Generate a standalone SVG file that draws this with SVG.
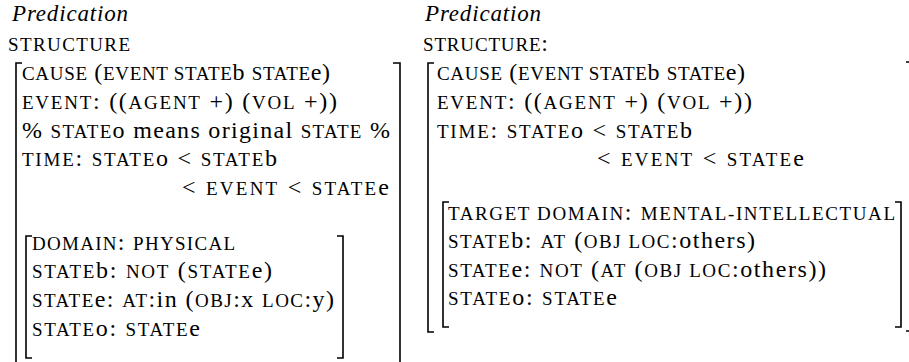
<svg xmlns="http://www.w3.org/2000/svg" width="909" height="362" viewBox="0 0 909 362">
<rect width="909" height="362" fill="#fff"/>
<g id="left-panel" fill="#000">
<text font-family="Liberation Serif" font-size="23" font-style="italic" x="12" y="21" textLength="116">Predication</text>
<text font-family="Liberation Serif" font-size="19" x="8" y="51" textLength="122">STRUCTURE</text>
<g id="left-outer">
<text font-family="Liberation Serif" font-size="24" x="22" y="80" textLength="308"><tspan font-size="19">CAUSE</tspan> (<tspan font-size="19">EVENT STATE</tspan>b <tspan font-size="19">STATE</tspan>e)</text>
<text font-family="Liberation Serif" font-size="24" x="22" y="109" textLength="315"><tspan font-size="19">EVENT</tspan>: ((<tspan font-size="19">AGENT</tspan> +) (<tspan font-size="19">VOL</tspan> +))</text>
<text font-family="Liberation Serif" font-size="24" x="22" y="138" textLength="368">% <tspan font-size="19">STATE</tspan>o means original <tspan font-size="19">STATE</tspan> %</text>
<text font-family="Liberation Serif" font-size="24" x="22" y="166" textLength="255"><tspan font-size="19">TIME</tspan>: <tspan font-size="19">STATE</tspan>o &lt; <tspan font-size="19">STATE</tspan>b</text>
<text font-family="Liberation Serif" font-size="24" x="182" y="195" textLength="207">&lt; <tspan font-size="19">EVENT</tspan> &lt; <tspan font-size="19">STATE</tspan>e</text>
</g>
<g id="left-inner">
<text font-family="Liberation Serif" font-size="24" x="32" y="250" textLength="203"><tspan font-size="19">DOMAIN</tspan>: <tspan font-size="19">PHYSICAL</tspan></text>
<text font-family="Liberation Serif" font-size="24" x="32" y="278" textLength="240"><tspan font-size="19">STATE</tspan>b: <tspan font-size="19">NOT</tspan> (<tspan font-size="19">STATE</tspan>e)</text>
<text font-family="Liberation Serif" font-size="24" x="32" y="307" textLength="302"><tspan font-size="19">STATE</tspan>e: <tspan font-size="19">AT</tspan>:in (<tspan font-size="19">OBJ</tspan>:x <tspan font-size="19">LOC</tspan>:y)</text>
<text font-family="Liberation Serif" font-size="24" x="32" y="336" textLength="168"><tspan font-size="19">STATE</tspan>o: <tspan font-size="19">STATE</tspan>e</text>
</g>
<g id="left-brackets" fill="none" stroke="#000" stroke-width="1.6">
<path d="M22,63 H16 V362"/>
<path d="M393,63 H400 V362"/>
<path d="M32,236 H26 V358 H32"/>
<path d="M337,236 H343 V358 H337"/>
</g>
</g>
<g id="right-panel" fill="#000">
<text font-family="Liberation Serif" font-size="23" font-style="italic" x="425" y="21" textLength="116">Predication</text>
<text font-family="Liberation Serif" font-size="24" x="423" y="51" textLength="125"><tspan font-size="19">STRUCTURE</tspan>:</text>
<g id="right-outer">
<text font-family="Liberation Serif" font-size="24" x="437" y="80" textLength="308"><tspan font-size="19">CAUSE</tspan> (<tspan font-size="19">EVENT STATE</tspan>b <tspan font-size="19">STATE</tspan>e)</text>
<text font-family="Liberation Serif" font-size="24" x="437" y="109" textLength="315"><tspan font-size="19">EVENT</tspan>: ((<tspan font-size="19">AGENT</tspan> +) (<tspan font-size="19">VOL</tspan> +))</text>
<text font-family="Liberation Serif" font-size="24" x="437" y="138" textLength="255"><tspan font-size="19">TIME</tspan>: <tspan font-size="19">STATE</tspan>o &lt; <tspan font-size="19">STATE</tspan>b</text>
<text font-family="Liberation Serif" font-size="24" x="597" y="166" textLength="207">&lt; <tspan font-size="19">EVENT</tspan> &lt; <tspan font-size="19">STATE</tspan>e</text>
</g>
<g id="right-inner">
<text font-family="Liberation Serif" font-size="24" x="448" y="220" textLength="447"><tspan font-size="19">TARGET DOMAIN</tspan>: <tspan font-size="19">MENTAL-INTELLECTUAL</tspan></text>
<text font-family="Liberation Serif" font-size="24" x="448" y="248" textLength="307"><tspan font-size="19">STATE</tspan>b: <tspan font-size="19">AT</tspan> (<tspan font-size="19">OBJ LOC</tspan>:others)</text>
<text font-family="Liberation Serif" font-size="24" x="448" y="277" textLength="378"><tspan font-size="19">STATE</tspan>e: <tspan font-size="19">NOT</tspan> (<tspan font-size="19">AT</tspan> (<tspan font-size="19">OBJ LOC</tspan>:others))</text>
<text font-family="Liberation Serif" font-size="24" x="448" y="305" textLength="169"><tspan font-size="19">STATE</tspan>o: <tspan font-size="19">STATE</tspan>e</text>
</g>
<g id="right-brackets" fill="none" stroke="#000" stroke-width="1.6">
<path d="M434,63 H428 V332 H434"/>
<path d="M449,202 H443 V327 H449"/>
<path d="M895,202 H901 V327 H895"/>
<path d="M906,62 H912 V331 H906"/>
</g>
</g>
</svg>
